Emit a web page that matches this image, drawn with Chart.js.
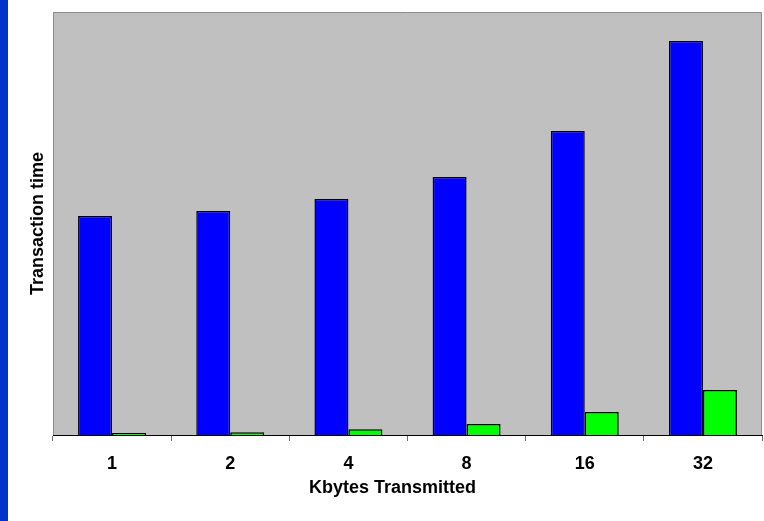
<!DOCTYPE html>
<html>
<head>
<meta charset="utf-8">
<script src="https://cdn.jsdelivr.net/npm/chart.js@4"></script>
<style>
  html, body { margin: 0; padding: 0; background: #fff; }
  #wrap { position: relative; width: 764px; height: 521px; }
  #strip { position: absolute; left: 0; top: 0; width: 8px; height: 521px; background: #0033CC; }
</style>
</head>
<body>
<div id="wrap">
  <div id="strip"></div>
  <canvas id="chart" width="764" height="521"></canvas>
</div>
<script>
// categories (Kbytes transmitted)
const labels = ['1', '2', '4', '8', '16', '32'];
// transaction time (relative units)
const serieBleue = [219, 224, 236, 258, 304, 394];
const serieVerte = [2, 2.7, 5.7, 11, 23, 45];
const yMax = 423;

// fond gris + cadre de la zone de tracé
const plotArea = {
    id: 'plotArea',
    beforeDatasetsDraw(chart) {
        const { ctx, chartArea: a } = chart;
        ctx.save();
        ctx.fillStyle = '#C0C0C0';
        ctx.fillRect(a.left, a.top, a.right - a.left, a.bottom - a.top);
        ctx.strokeStyle = '#8c8c8c';
        ctx.lineWidth = 1;
        ctx.beginPath();
        ctx.moveTo(a.left + 0.5, a.bottom);
        ctx.lineTo(a.left + 0.5, a.top + 0.5);
        ctx.lineTo(a.right - 0.5, a.top + 0.5);
        ctx.lineTo(a.right - 0.5, a.bottom);
        ctx.stroke();
        ctx.restore();
    }
};

const police = 'Liberation Sans, Arial, sans-serif';

var ctx = document.getElementById('chart').getContext('2d');
var myChart = new Chart(ctx, {
    type: 'bar',
    data: {
        labels: labels,
        datasets: [{
            data: serieBleue,
            backgroundColor: '#0000FF',
            borderColor: '#000000',
            borderWidth: 1.5,
        }, {
            data: serieVerte,
            backgroundColor: '#00FF00',
            borderColor: '#000000',
            borderWidth: 1.5,
        }]
    },
    options: {
        responsive: false,
        animation: false,
        layout: { padding: { top: 12, right: 2, left: 0, bottom: 0 } },
        plugins: {
            legend: { display: false },
            tooltip: { enabled: false }
        },
        datasets: {
            bar: { categoryPercentage: 0.575, barPercentage: 1 }
        },
        scales: {
            x: {
                afterFit: function(scale) { scale.height = 86; },
                grid: {
                    drawOnChartArea: false,
                    drawTicks: true,
                    tickLength: 6,
                    color: '#707070'
                },
                border: { display: true, color: '#000000', width: 1 },
                ticks: {
                    color: '#000000',
                    padding: 12,
                    font: { family: police, size: 18, weight: 'bold' }
                },
                title: {
                    display: true,
                    // espaces finaux : le titre est un peu décalé à gauche dans l'original
                    text: 'Kbytes Transmitted\u00a0\u00a0\u00a0\u00a0\u00a0\u00a0',
                    color: '#000000',
                    padding: { top: 0, bottom: 22 },
                    font: { family: police, size: 18, weight: 'bold' }
                }
            },
            y: {
                min: 0,
                max: yMax,
                afterFit: function(scale) { scale.width = 53; },
                grid: { display: false },
                border: { display: false },
                ticks: { display: false },
                title: {
                    display: true,
                    text: 'Transaction time',
                    color: '#000000',
                    padding: { top: 27, bottom: 0 },
                    font: { family: police, size: 18, weight: 'bold' }
                }
            }
        }
    },
    plugins: [plotArea]
});
</script>
</body>
</html>
